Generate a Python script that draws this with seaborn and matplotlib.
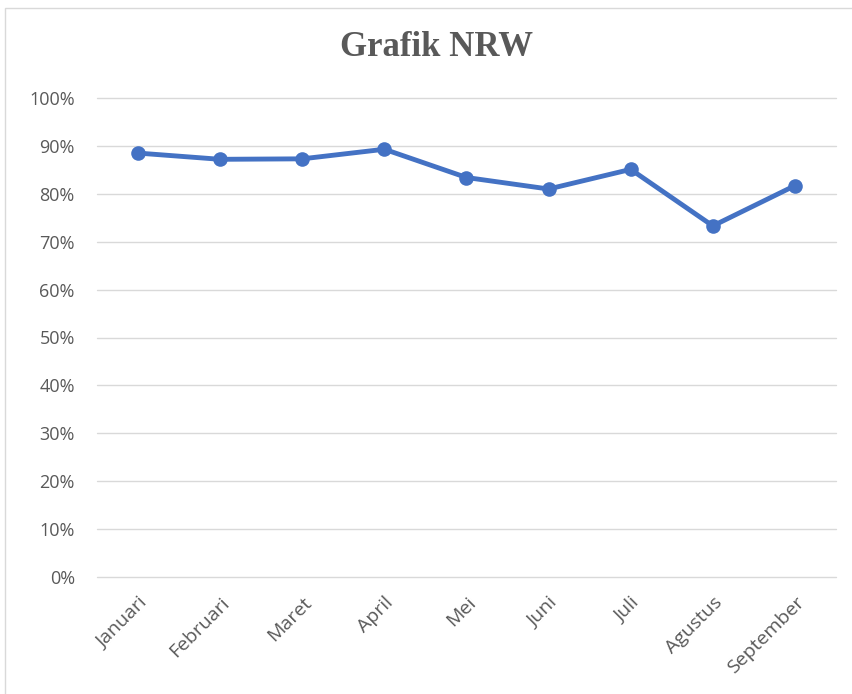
import matplotlib
matplotlib.use("Agg")
import matplotlib.pyplot as plt
import seaborn as sns
import pandas as pd
from matplotlib.patches import Rectangle
from matplotlib.ticker import FuncFormatter

months = ["Januari", "Februari", "Maret", "April", "Mei", "Juni", "Juli", "Agustus", "September"]
nrw = [0.885, 0.872, 0.873, 0.893, 0.834, 0.810, 0.851, 0.733, 0.817]
yticks = [0.0, 0.1, 0.2, 0.3, 0.4, 0.5, 0.6, 0.7, 0.8, 0.9, 1.0]

df = pd.DataFrame({"Bulan": months, "NRW": nrw})
df["pos"] = range(len(months))

sns.set_theme(style="white")
plt.rcParams["font.family"] = ["Open Sans", "DejaVu Sans"]

W, H = 852, 694
fig = plt.figure(figsize=(W / 100, H / 100), dpi=100)
fig.patch.set_facecolor("white")

# chart border
fig.patches.append(Rectangle((5 / W, -0.05), 1.2, 1 - 8 / H + 0.05, transform=fig.transFigure,
                             fill=False, edgecolor="#D9D9D9", linewidth=1.0))

left, right = 97 / W, 836 / W
bottom, top = 1 - 577 / H, 1 - 98 / H
ax = fig.add_axes([left, bottom, right - left, top - bottom])

sns.lineplot(data=df, x="pos", y="NRW", ax=ax, color="#4472C4", linewidth=3.5,
             marker="o", markersize=10.5, markeredgewidth=0, markerfacecolor="#4472C4",
             zorder=3, legend=False)

ax.set_xlim(-0.5, len(months) - 0.5)
ax.set_ylim(0, 1.0)
ax.set_yticks(yticks)
ax.yaxis.set_major_formatter(FuncFormatter(lambda v, p: f"{round(v * 100)}%"))
ax.set_xticks(df["pos"])
ax.set_xticklabels(months, rotation=45, ha="right", rotation_mode="anchor")
ax.set_xlabel("")
ax.set_ylabel("")
ax.grid(axis="y", color="#D9D9D9", linewidth=1.0)
for gl in ax.get_ygridlines():
    gl.set_clip_on(False)
ax.set_axisbelow(True)
for s in ax.spines.values():
    s.set_visible(False)
ax.tick_params(axis="both", length=0, colors="#595959")
ax.tick_params(axis="y", pad=16, labelsize=13)
ax.tick_params(axis="x", pad=12, labelsize=14)

fig.text(437 / W, 1 - 48 / H, "Grafik NRW", ha="center", va="center",
         fontsize=25, fontweight="bold", color="#595959", family="Liberation Serif")

fig.savefig("out.png", dpi=100, facecolor="white")
